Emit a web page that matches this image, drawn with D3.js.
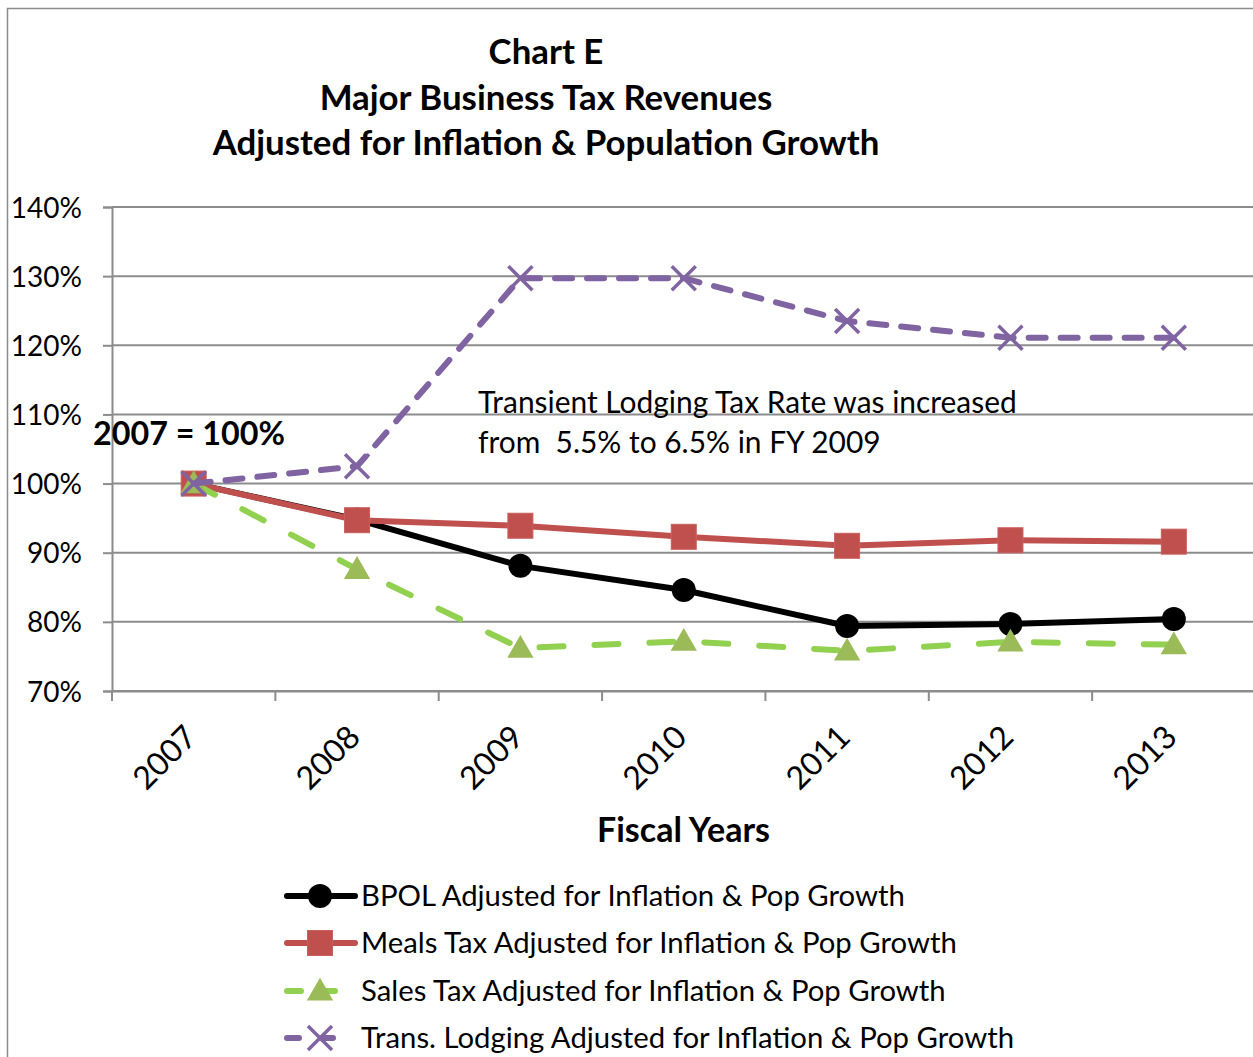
<!DOCTYPE html>
<html><head><meta charset="utf-8">
<script src="https://cdn.jsdelivr.net/npm/d3@7"></script>
<style>body{margin:0;background:#fff} svg{display:block} text{white-space:pre}</style>
</head><body>
<script>
// ---- data ----
const years = ["2007","2008","2009","2010","2011","2012","2013"];
const bpol    = [100, 94.8, 88.1, 84.6, 79.4, 79.7, 80.4];
const meals   = [100, 94.7, 93.9, 92.3, 91.0, 91.8, 91.6];
const sales   = [100, 87.6, 76.2, 77.2, 75.8, 77.1, 76.7];
const lodging = [100, 102.5, 129.7, 129.7, 123.5, 121.1, 121.1];
const yTicks = [70, 80, 90, 100, 110, 120, 130, 140];
const seriesNames = [
  "BPOL Adjusted for Inflation & Pop Growth",
  "Meals Tax Adjusted for Inflation & Pop Growth",
  "Sales Tax Adjusted for Inflation & Pop Growth",
  "Trans. Lodging Adjusted for Inflation & Pop Growth"
];
const titleLines = ["Chart E", "Major Business Tax Revenues", "Adjusted for Inflation & Population Growth"];
const annotationLines = ["Transient Lodging Tax Rate was increased", "from  5.5% to 6.5% in FY 2009"];
const baseLabel = "2007 = 100%";
const xTitle = "Fiscal Years";

// ---- layout ----
const W = 1253, H = 1057;
const FONT = "Lato, 'Open Sans', sans-serif";
const svg = d3.select("body").append("svg").attr("width", W).attr("height", H);

function fit(sel, w) {
  const len = sel.node().getComputedTextLength();
  const cur = parseFloat(sel.attr("font-size"));
  sel.attr("font-size", cur * w / len);
  return cur * w / len;
}

// chart border
svg.append("rect").attr("x", 7.5).attr("y", 8.5).attr("width", 1400).attr("height", 1200)
  .attr("fill", "none").attr("stroke", "#8c8c8c").attr("stroke-width", 1.5);

const x = d3.scaleBand().domain(years).range([112, 1255.5]).paddingInner(0).paddingOuter(0);
const y = d3.scaleLinear().domain([70, 140]).range([691, 207]);
const cx = d => x(d) + x.bandwidth() / 2;

// gridlines
svg.append("g").selectAll("line").data(yTicks).join("line")
  .attr("x1", 112).attr("x2", W).attr("y1", d => y(d)).attr("y2", d => y(d))
  .attr("stroke", "#8c8c8c").attr("stroke-width", 2);

// y axis
const yAxis = svg.append("g").attr("transform", "translate(112,0)")
  .call(d3.axisLeft(y).tickValues(yTicks).tickFormat(d => d + "%").tickSize(9).tickPadding(21));
yAxis.select(".domain").attr("stroke", "#8c8c8c").attr("stroke-width", 2);
yAxis.selectAll(".tick line").attr("stroke", "#8c8c8c").attr("stroke-width", 2);
yAxis.selectAll("text").attr("font-family", FONT).attr("font-size", 28).attr("fill", "#000").attr("dy", "0.36em");

// x axis
const xAxis = svg.append("g").attr("transform", "translate(0,691)")
  .call(d3.axisBottom(x).tickSize(0).tickPadding(0));
xAxis.select(".domain").attr("stroke", "#8c8c8c").attr("stroke-width", 2);
xAxis.selectAll(".tick text")
  .attr("font-family", FONT).attr("font-size", 32).attr("fill", "#000")
  .attr("text-anchor", "end").attr("dy", 0)
  .attr("transform", "translate(5,48) rotate(-45)");
// boundary ticks between categories
const bounds = years.map(d => x(d)).concat([x.range()[1]]);
xAxis.append("g").selectAll("line").data(bounds).join("line")
  .attr("x1", d => d).attr("x2", d => d).attr("y1", 0).attr("y2", 10)
  .attr("stroke", "#8c8c8c").attr("stroke-width", 2);

// ---- series ----
const series = [
  {vals: bpol, color: "#000000", mcolor: "#000000", dash: null, marker: "circle"},
  {vals: meals, color: "#C0504D", mcolor: "#C0504D", dash: null, marker: "square"},
  {vals: sales, color: "#92D050", mcolor: "#9BBB59", dash: "24,31", marker: "triangle"},
  {vals: lodging, color: "#8064A2", mcolor: "#8064A2", dash: "17,15", marker: "x"}
];
const line = d3.line().x(d => cx(d.year)).y(d => y(d.v));

function drawMarker(g, type, color, px, py) {
  if (type === "circle") {
    g.append("circle").attr("cx", px).attr("cy", py).attr("r", 12).attr("fill", color);
  } else if (type === "square") {
    g.append("rect").attr("x", px - 12.5).attr("y", py - 12.5).attr("width", 25).attr("height", 25)
      .attr("fill", color).attr("stroke", "#c9605d").attr("stroke-width", 1);
  } else if (type === "triangle") {
    g.append("path").attr("d", d3.symbol().type(d3.symbolTriangle).size(300)())
      .attr("transform", `translate(${px},${py + 2})`).attr("fill", color);
  } else {
    const s = 12;
    g.append("path").attr("d", `M${px - s},${py - s}L${px + s},${py + s}M${px - s},${py + s}L${px + s},${py - s}`)
      .attr("stroke", color).attr("stroke-width", 3.5).attr("fill", "none");
  }
}

series.forEach(s => {
  const g = svg.append("g");
  const pts = years.map((yr, i) => ({year: yr, v: s.vals[i]}));
  g.append("path").datum(pts).attr("d", line).attr("fill", "none")
    .attr("stroke", s.color).attr("stroke-width", 6)
    .attr("stroke-linecap", s.dash ? "round" : "butt").attr("stroke-linejoin", "round")
    .attr("stroke-dasharray", s.dash);
  pts.forEach(p => drawMarker(g, s.marker, s.mcolor, cx(p.year), y(p.v)));
});

// ---- titles and annotations ----
const titleSel = svg.append("g").selectAll("text").data(titleLines).join("text")
  .attr("x", 546).attr("y", (d, i) => 64 + i * 45.5)
  .attr("text-anchor", "middle").attr("font-family", FONT).attr("font-weight", "bold")
  .attr("font-size", 30).attr("fill", "#000").text(d => d);
const tsz = fit(d3.select(titleSel.nodes()[2]), 667);
titleSel.attr("font-size", tsz);

const bl = svg.append("text").attr("x", 93).attr("y", 445).attr("font-family", FONT)
  .attr("font-weight", "bold").attr("font-size", 30).attr("fill", "#000").text(baseLabel);
fit(bl, 192);

const ann = svg.append("g").selectAll("text").data(annotationLines).join("text")
  .attr("x", 478).attr("y", (d, i) => 413 + i * 39.5)
  .attr("font-family", FONT).attr("font-size", 27).attr("fill", "#000").text(d => d);
const asz = fit(d3.select(ann.nodes()[0]), 539);
ann.attr("font-size", asz);

const xt = svg.append("text").attr("x", 683.5).attr("y", 842).attr("text-anchor", "middle")
  .attr("font-family", FONT).attr("font-weight", "bold").attr("font-size", 30).attr("fill", "#000").text(xTitle);
fit(xt, 173);

// ---- legend ----
const legY = [896, 943, 991, 1038];
const leg = svg.append("g");
let lsz = null;
series.forEach((s, i) => {
  const yy = legY[i];
  leg.append("line").attr("x1", 287).attr("x2", 355).attr("y1", yy).attr("y2", yy)
    .attr("stroke", s.color).attr("stroke-width", 6)
    .attr("stroke-linecap", "round").attr("stroke-dasharray", s.dash ? (i === 2 ? "14,20" : "12,22") : null);
  drawMarker(leg, s.marker, s.mcolor, 320, yy);
  const t = leg.append("text").attr("x", 361).attr("y", yy + 9.5)
    .attr("font-family", FONT).attr("font-size", 27).attr("fill", "#000").text(seriesNames[i]);
  if (i === 0) lsz = fit(t, 544); else t.attr("font-size", lsz);
});
</script>
</body></html>
